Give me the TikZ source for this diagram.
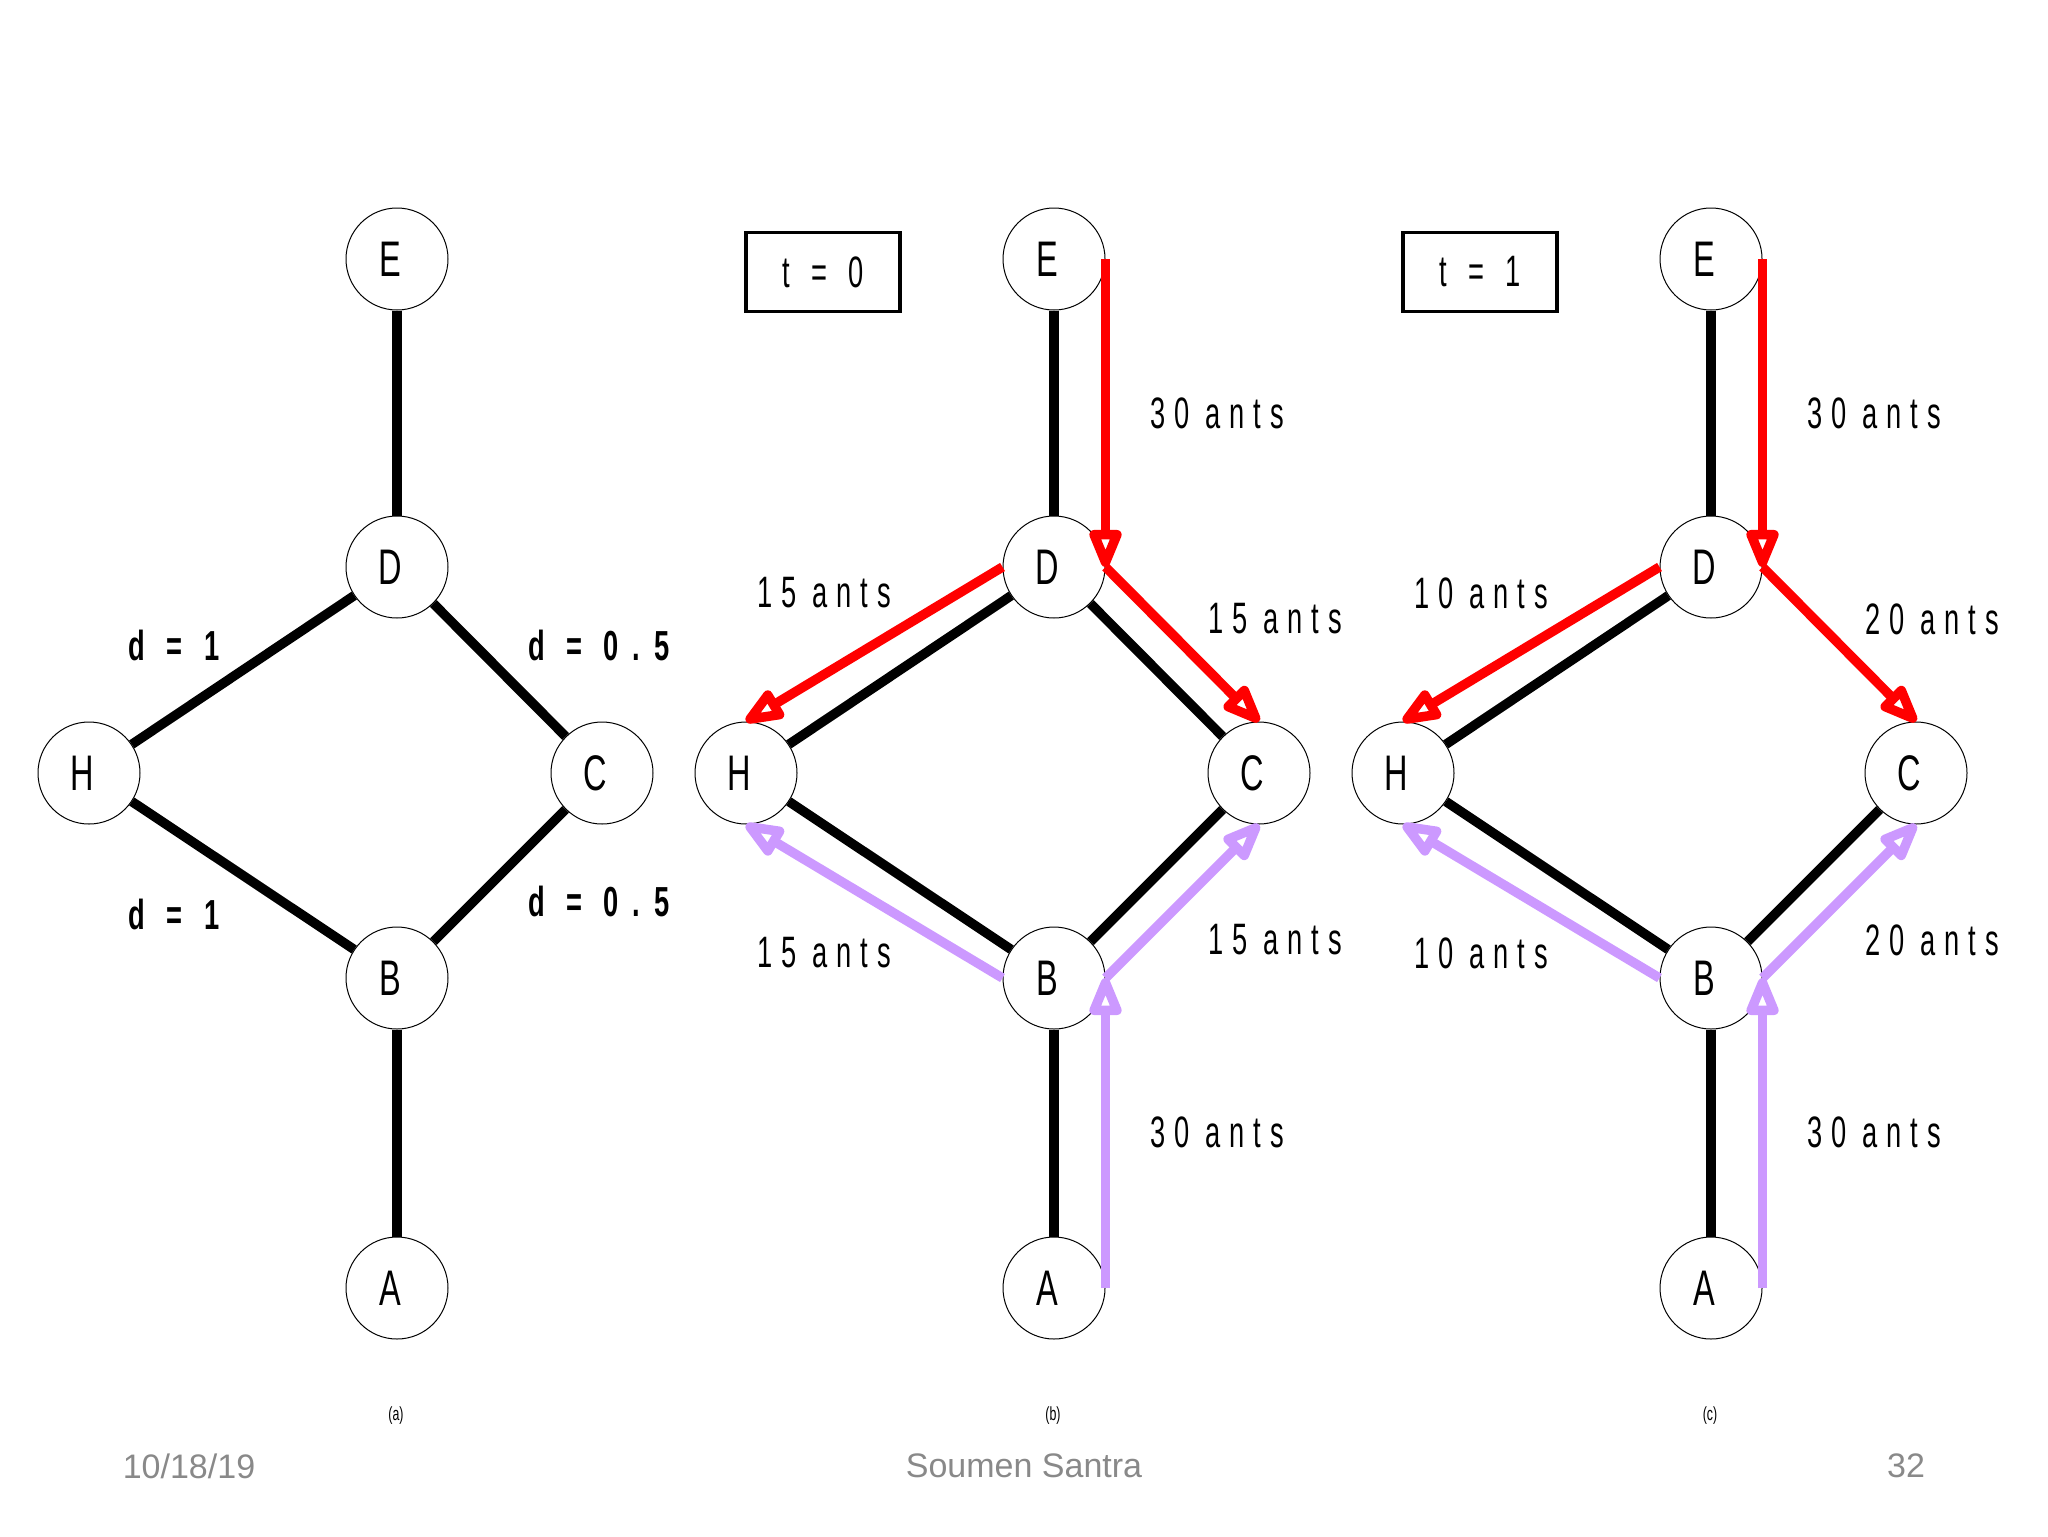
\documentclass[tikz,border=0pt]{standalone}
\usepackage{fontspec}
\usepackage{tikz}
\usetikzlibrary{arrows.meta}
\setmainfont{Liberation Sans}
\newfontfamily\narrowfont[FakeStretch=0.65]{Liberation Sans}
\newfontfamily\spacedfont[FakeStretch=0.62,LetterSpace=20]{Liberation Sans}
\newfontfamily\widefont[FakeStretch=0.62,LetterSpace=32]{Liberation Sans}
\newfontfamily\distfont[FakeStretch=0.65,LetterSpace=33]{Liberation Sans}
\definecolor{antred}{RGB}{255,0,0}
\definecolor{antlilac}{RGB}{204,153,255}
\definecolor{footgray}{RGB}{137,137,137}
\tikzset{
  vtx/.style={circle, draw, line width=0.5pt, fill=white, minimum size=51pt, inner sep=0pt, font=\narrowfont\fontsize{25}{25}\selectfont, execute at end node={\hspace*{7pt}}},
  edge/.style={line width=4.75pt},
  redpath/.style={draw=antred, line width=4.75pt, -{Triangle[open,round,length=23pt,width=17pt]}},
  lilacpath/.style={draw=antlilac, line width=4.75pt, -{Triangle[open,round,length=23pt,width=17pt]}},
  antlbl/.style={inner sep=0pt, font=\spacedfont\fontsize{22}{22}\selectfont},
  distlbl/.style={inner sep=0pt, font=\distfont\bfseries\fontsize{21}{21}\selectfont},
  timebox/.style={draw, line width=1.75pt, minimum width=77pt, minimum height=39.5pt, inner sep=0pt, font=\widefont\fontsize{22}{22}\selectfont},
  sublbl/.style={inner sep=0pt, font=\narrowfont\fontsize{9.5}{9.5}\selectfont},
  footlbl/.style={inner sep=0pt, text=footgray, font=\fontsize{17}{17}\selectfont}
}
\begin{document}
\begin{tikzpicture}[x=0.5pt,y=0.5pt,yscale=-1,xscale=1]
\useasboundingbox (0,0) rectangle (2048,1536);

% Panel (a)
\node [vtx] (Ea) at (397,259) {E};
\node [vtx] (Da) at (397,567) {D};
\node [vtx] (Ha) at (89,773) {H};
\node [vtx] (Ca) at (602,773) {C};
\node [vtx] (Ba) at (397,978) {B};
\node [vtx] (Aa) at (397,1288) {A};
%Straight Lines
\draw [edge] (Ea) -- (Da);
\draw [edge] (Da) -- (Ha);
\draw [edge] (Da) -- (Ca);
\draw [edge] (Ha) -- (Ba);
\draw [edge] (Ca) -- (Ba);
\draw [edge] (Ba) -- (Aa);
% Text Node
\node [distlbl] (dHD) at (174,645) {d = 1};
\node [distlbl] (dDC) at (599,645) {d = 0.5};
\node [distlbl] (dHB) at (174,914) {d = 1};
\node [distlbl] (dBC) at (599,901) {d = 0.5};
\node [sublbl] (capa) at (396,1416) {(a)};

% Panel (b)
\node [vtx] (Eb) at (1054,259) {E};
\node [vtx] (Db) at (1054,567) {D};
\node [vtx] (Hb) at (746,773) {H};
\node [vtx] (Cb) at (1259,773) {C};
\node [vtx] (Bb) at (1054,978) {B};
\node [vtx] (Ab) at (1054,1288) {A};
%Straight Lines
\draw [edge] (Eb) -- (Db);
\draw [edge] (Db) -- (Hb);
\draw [edge] (Db) -- (Cb);
\draw [edge] (Hb) -- (Bb);
\draw [edge] (Cb) -- (Bb);
\draw [edge] (Bb) -- (Ab);
%Arrows
\draw [redpath] (Eb.east) -- (Db.east);
\draw [redpath] (Db.east) -- (Cb.north);
\draw [redpath] (Db.west) -- (Hb.north);
\draw [lilacpath] (Ab.east) -- (Bb.east);
\draw [lilacpath] (Bb.east) -- (Cb.south);
\draw [lilacpath] (Bb.west) -- (Hb.south);
% Text Node
\node [timebox] (tb) at (823,272) {t = 0};
\node [antlbl] (nEDb) at (1217,413) {30 ants};
\node [antlbl] (nDHb) at (824,593) {15 ants};
\node [antlbl] (nDCb) at (1275,619) {15 ants};
\node [antlbl] (nBHb) at (824,953) {15 ants};
\node [antlbl] (nBCb) at (1275,940) {15 ants};
\node [antlbl] (nABb) at (1217,1132) {30 ants};
\node [sublbl] (capb) at (1053,1416) {(b)};

% Panel (c)
\node [vtx] (Ec) at (1711,259) {E};
\node [vtx] (Dc) at (1711,567) {D};
\node [vtx] (Hc) at (1403,773) {H};
\node [vtx] (Cc) at (1916,773) {C};
\node [vtx] (Bc) at (1711,978) {B};
\node [vtx] (Ac) at (1711,1288) {A};
%Straight Lines
\draw [edge] (Ec) -- (Dc);
\draw [edge] (Dc) -- (Hc);
\draw [edge] (Hc) -- (Bc);
\draw [edge] (Cc) -- (Bc);
\draw [edge] (Bc) -- (Ac);
%Arrows
\draw [redpath] (Ec.east) -- (Dc.east);
\draw [redpath] (Dc.east) -- (Cc.north);
\draw [redpath] (Dc.west) -- (Hc.north);
\draw [lilacpath] (Ac.east) -- (Bc.east);
\draw [lilacpath] (Bc.east) -- (Cc.south);
\draw [lilacpath] (Bc.west) -- (Hc.south);
% Text Node
\node [timebox] (tc) at (1480,272) {t = 1};
\node [antlbl] (nEDc) at (1874,413) {30 ants};
\node [antlbl] (nDHc) at (1481,593) {10 ants};
\node [antlbl] (nDCc) at (1932,619) {20 ants};
\node [antlbl] (nBHc) at (1481,953) {10 ants};
\node [antlbl] (nBCc) at (1932,940) {20 ants};
\node [antlbl] (nABc) at (1874,1132) {30 ants};
\node [sublbl] (capc) at (1710,1416) {(c)};

% Footer
\node [footlbl] (fdate) at (189,1466) {10/18/19};
\node [footlbl] (fname) at (1024,1466) {Soumen Santra};
\node [footlbl] (fpage) at (1906,1466) {32};
\end{tikzpicture}
\end{document}
